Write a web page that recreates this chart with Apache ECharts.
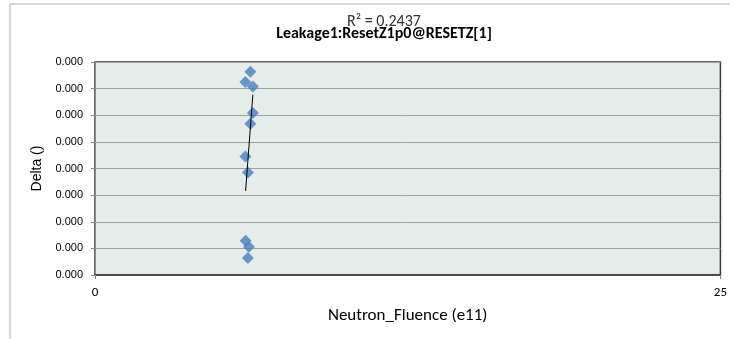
<!DOCTYPE html>
<html>
<head>
<meta charset="utf-8">
<script src="https://cdn.jsdelivr.net/npm/echarts@6/dist/echarts.min.js"></script>
<style>html,body{margin:0;padding:0;background:#fff}#c{width:730px;height:339px}</style>
</head>
<body>
<div id="c"></div>
<script>
// Data (values are tiny: all tick labels read 0.000)
const fluence = [6.21, 6.01, 6.31, 6.31, 6.21, 6.01, 6.11, 6.02, 6.15, 6.11];
const delta = [0.0000763, 0.0000725, 0.0000708, 0.0000608, 0.0000568, 0.0000445, 0.0000385, 0.0000129, 0.0000106, 0.0000064];
const trendX = [6.02, 6.31];
const trendY = [0.0000316, 0.0000677];
const xTicks = [0, 25];
const yMin = 0, yMax = 0.00008, yStep = 0.00001;
const rSquaredText = 'R² = 0.2437';
const titleText = 'Leakage1:ResetZ1p0@RESETZ[1]';

const chart = echarts.init(document.getElementById('c'));
const font = 'Carlito, Lato, "Liberation Sans", sans-serif';
chart.setOption({
  animation: false,
  graphic: [{
    type: 'rect', shape: {x: 10, y: 4, width: 740, height: 360},
    style: {fill: 'none', stroke: '#b0b0b0', lineWidth: 1}, silent: true, z: -10
  }],
  title: [
    {text: rSquaredText, left: 379, textAlign: 'center', top: 9, textStyle: {fontFamily: font, fontSize: 16, fontWeight: 'normal', color: '#333'}},
    {text: titleText, left: 379, textAlign: 'center', top: 21, textStyle: {fontFamily: font, fontSize: 16, fontWeight: 'bold', color: '#000'}}
  ],
  grid: {left: 95, right: 8, top: 62, bottom: 64, show: true, backgroundColor: '#e6ecea', borderColor: '#3a3a3a', borderWidth: 1.5},
  xAxis: {
    type: 'value', min: xTicks[0], max: xTicks[1], interval: xTicks[1] - xTicks[0],
    name: 'Neutron_Fluence (e11)', nameLocation: 'middle', nameGap: 32,
    nameTextStyle: {fontFamily: font, fontSize: 17, color: '#000'},
    axisLine: {show: true, lineStyle: {color: '#3a3a3a', width: 1.5}},
    axisTick: {show: true, length: 4, lineStyle: {color: '#888'}},
    axisLabel: {margin: 11, fontFamily: font, fontSize: 13, color: '#000'},
    splitLine: {show: false}
  },
  yAxis: {
    type: 'value', min: yMin, max: yMax, interval: yStep,
    name: 'Delta ()', nameLocation: 'middle', nameGap: 47,
    nameTextStyle: {fontFamily: '"Liberation Sans", Arial, sans-serif', fontSize: 14, color: '#000'},
    axisLine: {show: true, lineStyle: {color: '#8a8a8a', width: 1}},
    axisTick: {show: true, length: 4, lineStyle: {color: '#8a8a8a'}},
    axisLabel: {margin: 12, fontFamily: '"Liberation Sans", Arial, sans-serif', fontSize: 11, color: '#000', formatter: v => v.toFixed(3)},
    splitLine: {show: true, lineStyle: {color: '#a0a0a0', width: 1}}
  },
  series: [
    {
      type: 'scatter', symbol: 'diamond', symbolSize: 12,
      itemStyle: {color: '#4a7ebb'},
      data: fluence.map((x, i) => [x, delta[i]])
    },
    {
      type: 'line', symbol: 'none', z: 3,
      lineStyle: {color: '#000', width: 1},
      data: trendX.map((x, i) => [x, trendY[i]])
    }
  ]
});
</script>
</body>
</html>
